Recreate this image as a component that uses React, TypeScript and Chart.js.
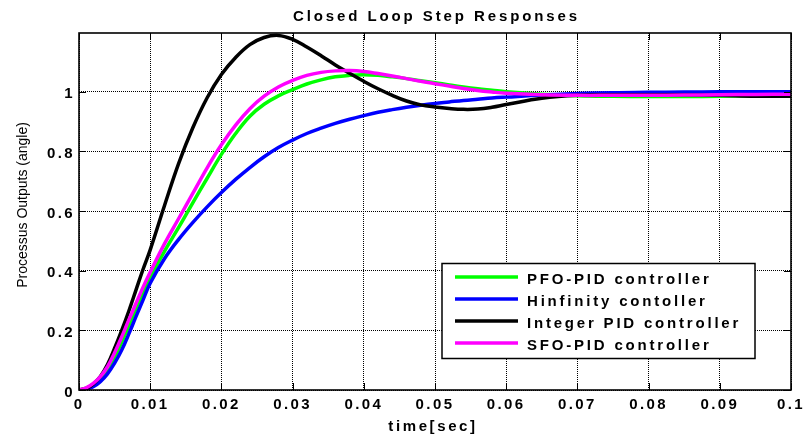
import React, { useEffect, useRef } from 'react';
import { Chart, registerables } from 'chart.js';

Chart.register(...registerables);

// ---- data ----
const timeSec = [
  0, 0.001, 0.002, 0.003, 0.004, 0.005, 0.006, 0.007, 0.008, 0.009, 0.01,
  0.012, 0.014, 0.016, 0.018, 0.02, 0.022, 0.024, 0.026, 0.028, 0.03,
  0.032, 0.034, 0.036, 0.038, 0.04, 0.042, 0.044, 0.046, 0.048, 0.05,
  0.052, 0.054, 0.056, 0.058, 0.06, 0.065, 0.07, 0.075, 0.08, 0.085,
  0.09, 0.095, 0.1,
];

const pfoPid = [
  0, 0.006, 0.018, 0.038, 0.068, 0.11, 0.16, 0.215, 0.272, 0.327, 0.378,
  0.465, 0.545, 0.628, 0.71, 0.79, 0.86, 0.918, 0.958, 0.986, 1.007,
  1.026, 1.04, 1.05, 1.055, 1.057, 1.055, 1.05, 1.044, 1.037, 1.03,
  1.023, 1.016, 1.01, 1.005, 1.0, 0.992, 0.987, 0.985, 0.984, 0.984,
  0.985, 0.987, 0.99,
];

const hinfinity = [
  0, 0.003, 0.011, 0.028, 0.054, 0.09, 0.134, 0.188, 0.246, 0.302, 0.358,
  0.44, 0.505, 0.562, 0.614, 0.662, 0.706, 0.746, 0.782, 0.813, 0.838,
  0.86, 0.878, 0.894, 0.908, 0.92, 0.931, 0.94, 0.948, 0.955, 0.961,
  0.966, 0.971, 0.975, 0.979, 0.982, 0.989, 0.994, 0.997, 0.998, 0.999,
  1.0, 1.0, 1.0,
];

const integerPid = [
  0, 0.005, 0.02, 0.045, 0.085, 0.14, 0.2, 0.265, 0.335, 0.405, 0.47,
  0.618, 0.76, 0.88, 0.98, 1.058, 1.115, 1.158, 1.182, 1.189, 1.176,
  1.15, 1.121, 1.09, 1.062, 1.035, 1.01, 0.988, 0.969, 0.956, 0.949,
  0.944, 0.941, 0.942, 0.948, 0.957, 0.978, 0.988, 0.99, 0.99, 0.99,
  0.988, 0.985, 0.985,
];

const sfoPid = [
  0, 0.007, 0.022, 0.045, 0.078, 0.125, 0.178, 0.235, 0.29, 0.345, 0.395,
  0.49, 0.575, 0.66, 0.745, 0.822, 0.888, 0.943, 0.985, 1.016, 1.038,
  1.055, 1.065, 1.07, 1.071, 1.068, 1.061, 1.053, 1.044, 1.035, 1.027,
  1.019, 1.011, 1.004, 0.999, 0.995, 0.99, 0.988, 0.988, 0.988, 0.989,
  0.99, 0.991, 0.992,
];

const xTicks = [0, 0.01, 0.02, 0.03, 0.04, 0.05, 0.06, 0.07, 0.08, 0.09, 0.1];
const yTicks = [0, 0.2, 0.4, 0.6, 0.8, 1];

const seriesNames = [
  'PFO-PID controller',
  'Hinfinity contoller',
  'Integer PID controller',
  'SFO-PID controller',
];
const seriesValues = [pfoPid, hinfinity, integerPid, sfoPid];
const seriesColors = ['#00ff00', '#0000ff', '#000000', '#ff00ff'];
const seriesOrder = [3, 2, 1, 0];

const titleText = 'Closed Loop Step Responses';
const xTitleText = 'time[sec]';
const yTitleText = 'Processus Outputs (angle)';

const FONT = '"Liberation Sans", Arial, Helvetica, sans-serif';

export default function App() {
  const ref = useRef<HTMLCanvasElement | null>(null);

  useEffect(() => {
    document.body.style.margin = '0';
    document.body.style.overflow = 'hidden';
    const canvas = ref.current;
    if (!canvas) return;

    const spacingPlugin = {
      id: 'spacing',
      beforeUpdate(chart: any) {
        (chart.ctx as any).letterSpacing = '2.4px';
      },
      beforeDraw(chart: any) {
        (chart.ctx as any).letterSpacing = '2.4px';
      },
    };

    const decorPlugin = {
      id: 'decor',
      afterDraw(chart: any) {
        const ctx = chart.ctx as CanvasRenderingContext2D & { letterSpacing: string };
        const { left, right, top, bottom } = chart.chartArea;
        const xs = chart.scales.x;
        const ys = chart.scales.y;
        ctx.save();
        // inward tick marks
        ctx.strokeStyle = '#000';
        ctx.lineWidth = 1;
        ctx.setLineDash([]);
        ctx.beginPath();
        for (const v of xTicks) {
          const px = Math.round(xs.getPixelForValue(v)) + 0.5;
          ctx.moveTo(px, bottom);
          ctx.lineTo(px, bottom - 7);
          ctx.moveTo(px, top);
          ctx.lineTo(px, top + 7);
        }
        for (const v of yTicks) {
          const py = Math.round(ys.getPixelForValue(v)) + 0.5;
          ctx.moveTo(left, py);
          ctx.lineTo(left + 7, py);
          ctx.moveTo(right, py);
          ctx.lineTo(right - 7, py);
        }
        ctx.stroke();
        // frame
        ctx.lineWidth = 1.6;
        ctx.strokeRect(left, top, right - left, bottom - top);

        // title
        ctx.fillStyle = '#000';
        ctx.letterSpacing = '2.9px';
        ctx.font = `bold 15px ${FONT}`;
        ctx.textAlign = 'center';
        ctx.textBaseline = 'alphabetic';
        ctx.fillText(titleText, (left + right) / 2 + 1.5, 21);

        // x title
        ctx.letterSpacing = '2.6px';
        ctx.fillText(xTitleText, 433, 431);

        // y title
        ctx.letterSpacing = '0px';
        ctx.font = `14px ${FONT}`;
        ctx.save();
        ctx.translate(27, 205);
        ctx.rotate(-Math.PI / 2);
        ctx.textBaseline = 'alphabetic';
        ctx.fillText(yTitleText, 0, 0);
        ctx.restore();

        // legend
        const bx = 442, by = 263.5, bw = 313, bh = 95;
        ctx.fillStyle = '#fff';
        ctx.fillRect(bx, by, bw, bh);
        ctx.strokeStyle = '#000';
        ctx.lineWidth = 1.5;
        ctx.strokeRect(bx, by, bw, bh);
        ctx.font = `bold 15px ${FONT}`;
        ctx.letterSpacing = '2.8px';
        ctx.textAlign = 'left';
        ctx.textBaseline = 'alphabetic';
        seriesNames.forEach((name, i) => {
          const ly = 277 + i * 22;
          ctx.strokeStyle = seriesColors[i];
          ctx.lineWidth = 3.5;
          ctx.beginPath();
          ctx.moveTo(455, ly);
          ctx.lineTo(518, ly);
          ctx.stroke();
          ctx.fillStyle = '#000';
          ctx.fillText(name, 527, ly + 7);
        });
        ctx.restore();
      },
    };

    const chart = new Chart(canvas, {
      type: 'line',
      data: {
        datasets: seriesNames.map((name, i) => ({
          label: name,
          data: timeSec.map((t, j) => ({ x: t, y: seriesValues[i][j] })),
          borderColor: seriesColors[i],
          backgroundColor: seriesColors[i],
          borderWidth: 3.5,
          pointRadius: 0,
          fill: false,
          tension: 0.4,
          order: seriesOrder[i],
        })),
      },
      options: {
        responsive: false,
        animation: false,
        layout: { padding: { left: 0, right: 12, top: 33, bottom: 0 } },
        plugins: {
          legend: { display: false },
          title: { display: false },
          tooltip: { enabled: false },
        },
        scales: {
          x: {
            type: 'linear',
            min: 0,
            max: 0.1,
            afterBuildTicks: (scale: any) => {
              scale.ticks = xTicks.map((v) => ({ value: v }));
            },
            afterFit: (scale: any) => {
              scale.height = 44;
              scale.paddingLeft = 0;
              scale.paddingRight = 0;
            },
            ticks: {
              autoSkip: false,
              maxRotation: 0,
              padding: 6,
              color: '#000',
              font: { family: FONT, size: 15, weight: 'bold' },
              callback: (v: any) => String(v),
            },
            grid: {
              color: '#000',
              lineWidth: 1,
              drawTicks: false,
            },
            border: { display: false, dash: [1, 1] },
          },
          y: {
            type: 'linear',
            min: 0,
            max: 1.197,
            afterBuildTicks: (scale: any) => {
              scale.ticks = yTicks.map((v) => ({ value: v }));
            },
            afterFit: (scale: any) => {
              scale.width = 79;
              scale.paddingTop = 0;
              scale.paddingBottom = 0;
            },
            ticks: {
              padding: 4,
              labelOffset: 2.5,
              color: '#000',
              font: { family: FONT, size: 15, weight: 'bold' },
              callback: (v: any) => String(v),
            },
            grid: {
              color: '#000',
              lineWidth: 1,
              drawTicks: false,
            },
            border: { display: false, dash: [1, 1] },
          },
        },
      },
      plugins: [spacingPlugin, decorPlugin],
    } as any);

    return () => {
      chart.destroy();
    };
  }, []);

  return (
    <div style={{ width: 803, height: 434, position: 'relative', background: '#fff' }}>
      <canvas ref={ref} width={803} height={434} style={{ display: 'block' }} />
    </div>
  );
}
